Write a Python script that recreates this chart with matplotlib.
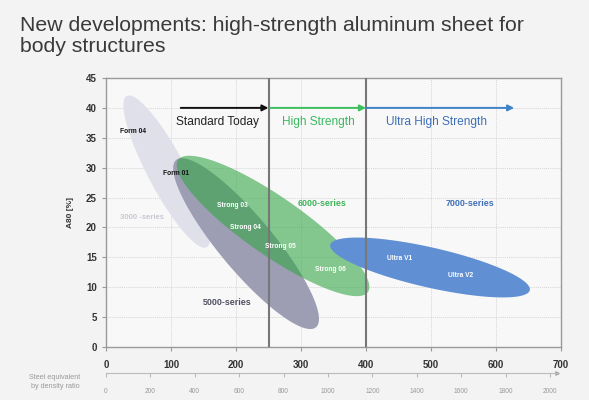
#!/usr/bin/env python3
"""
Recreates the aluminum sheet chart: A80 elongation vs. strength,
with ellipses for the alloy families and a steel equivalent scale.
"""
import numpy as np
import matplotlib.pyplot as plt
from matplotlib.patches import Polygon

plt.rcParams['font.family'] = ['Liberation Sans', 'DejaVu Sans']

# x ticks (aluminum) and steel-equivalent ticks
x_ticks = [0, 100, 200, 300, 400, 500, 600, 700]
y_ticks = [0, 5, 10, 15, 20, 25, 30, 35, 40, 45]
steel_ticks = [0, 200, 400, 600, 800, 1000, 1200, 1400, 1600, 1800, 2000]

# ellipses: major axis end points (data) and half width (px)
ell_names = ["3000", "5000", "6000", "7000"]
ell_start = [(32, 42.0), (108, 31.3), (111, 31.3), (345, 17.1)]
ell_end = [(155, 16.7), (323, 3.3), (403, 9.2), (652, 9.5)]
ell_halfw = [19, 27, 29, 20]
ell_color = ["#e0e0ea", "#9d9db4", "#35a747", "#6090d3"]
ell_alpha = [1.0, 1.0, 0.6, 1.0]

# labels inside the chart
grade_names = ["Form 04", "Form 01", "Strong 03", "Strong 04", "Strong 05",
               "Strong 06", "Ultra V1", "Ultra V2"]
grade_x = [42, 108, 194, 215, 268, 345, 452, 545]
grade_y = [36, 29, 23.7, 20, 16.8, 13, 14.8, 12]
grade_col = ["#111111", "#111111", "white", "white", "white", "white", "white", "white"]

series_names = ["3000 -series", "5000-series", "6000-series", "7000-series"]
series_x = [55, 186, 332, 560]
series_y = [21.7, 7.5, 24, 24]
series_col = ["#c9c9d2", "#4f4f62", "#3cb55a", "#3f6fb8"]

# strength classes: arrows at A80 = 40
class_names = ["Standard Today", "High Strength", "Ultra High Strength"]
class_from = [115, 252, 400]
class_to = [250, 400, 628]
class_textx = [172, 326, 508]
class_col = ["#111111", "#3cbf5c", "#3f82c8"]
class_txtcol = ["#222222", "#3cb860", "#3f6fb8"]
class_limits = [250, 400]


def ellipse_poly(ax, p0, p1, halfw, n=200):
    # build the ellipse in display space so it looks like the slide
    a = ax.transData.transform(p0)
    b = ax.transData.transform(p1)
    c = (a + b) / 2
    d = b - a
    L = np.hypot(*d) / 2
    u = d / (2 * L)
    v = np.array([-u[1], u[0]])
    t = np.linspace(0, 2 * np.pi, n)
    pts = c + np.outer(L * np.cos(t), u) + np.outer(halfw * np.sin(t), v)
    return ax.transData.inverted().transform(pts)


def main():
    fig = plt.figure(figsize=(5.89, 4.0), dpi=100)
    fig.patch.set_facecolor("#f3f3f3")

    W, H = 589, 400
    ax = fig.add_axes([106 / W, 1 - 347 / H, (561 - 106) / W, (347 - 78) / H])
    ax.set_facecolor("#f8f8f8")
    ax.set_xlim(0, 700)
    ax.set_ylim(0, 45)
    ax.set_xticks(x_ticks)
    ax.set_yticks(y_ticks)
    ax.grid(True, color="#d6d6d6", lw=0.7, ls=(0, (1, 1)))
    ax.set_axisbelow(True)
    for s in ax.spines.values():
        s.set_color("#999999")
        s.set_linewidth(1.0)
    ax.tick_params(axis="both", labelsize=7, colors="#999999", labelcolor="#333333",
                   length=3)
    for lab in ax.get_xticklabels() + ax.get_yticklabels():
        lab.set_fontweight("bold")
    ax.tick_params(axis="x", pad=6)
    ax.set_ylabel("A80 [%]", fontsize=6, fontweight="bold", color="#333333", labelpad=9)

    fig.text(20 / W, 1 - 16 / H,
             "New developments: high-strength aluminum sheet for\nbody structures",
             fontsize=15.3, color="#3a3a3a", va="top", ha="left", linespacing=1.12)

    for i in range(len(ell_names)):
        pts = ellipse_poly(ax, ell_start[i], ell_end[i], ell_halfw[i])
        ax.add_patch(Polygon(pts, closed=True, facecolor=ell_color[i],
                             alpha=ell_alpha[i], edgecolor="none", zorder=2))

    for xv in class_limits:
        ax.axvline(xv, color="#777777", lw=1.5, zorder=3)

    for i in range(len(class_names)):
        ax.annotate("", xy=(class_to[i], 40), xytext=(class_from[i], 40),
                    arrowprops=dict(arrowstyle="-|>", color=class_col[i], lw=1.4,
                                    mutation_scale=9, shrinkA=0, shrinkB=0), zorder=4)
        ax.text(class_textx[i], 37.6, class_names[i], fontsize=8.6,
                color=class_txtcol[i], ha="center", va="center", zorder=4)

    for i in range(len(grade_names)):
        ax.text(grade_x[i], grade_y[i], grade_names[i], fontsize=4.8, fontweight="bold",
                color=grade_col[i], ha="center", va="center", zorder=5)
    for i in range(len(series_names)):
        ax.text(series_x[i], series_y[i], series_names[i], fontsize=6.4 if i else 5.6,
                fontweight="bold", color=series_col[i], ha="center", va="center", zorder=5)

    # steel equivalent scale under the main axis
    ax2 = fig.add_axes([106 / W, 1 - 373 / H, (557 - 106) / W, 0.0001])
    ax2.set_facecolor("none")
    ax2.set_xlim(0, 2032)
    ax2.set_yticks([])
    for k in ["top", "left", "right"]:
        ax2.spines[k].set_visible(False)
    ax2.spines["bottom"].set_color("#bbbbbb")
    ax2.spines["bottom"].set_linewidth(0.8)
    ax2.set_xticks(steel_ticks)
    ax2.tick_params(axis="x", length=3, colors="#bbbbbb", labelsize=4.8,
                    labelcolor="#9a9a9a", pad=8)
    ax2.plot([2032], [0], marker=">", ms=2.5, color="#aaaaaa", clip_on=False,
             transform=ax2.get_xaxis_transform())
    fig.text(80 / W, 1 - 382 / H, "Steel equivalent\nby density ratio", fontsize=5.2,
             color="#9a9a9a", ha="right", va="center", linespacing=1.3)

    fig.savefig("out.png", dpi=100, facecolor=fig.get_facecolor())


if __name__ == "__main__":
    main()
